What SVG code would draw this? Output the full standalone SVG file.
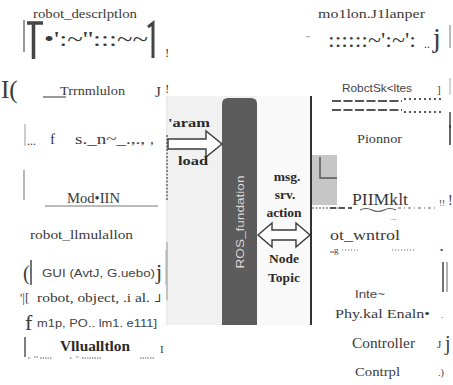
<svg xmlns="http://www.w3.org/2000/svg" width="453" height="385" viewBox="0 0 453 385">
<style>
.s{font-family:'Liberation Serif','DejaVu Serif',serif;fill:#3a3a3a}
.a{font-family:'Liberation Sans','DejaVu Sans',sans-serif;fill:#444}
.b{font-family:'Liberation Serif','DejaVu Serif',serif;font-weight:bold;fill:#2a2a2a}
.ln{stroke:#555;stroke-width:1.2;fill:none}
.arrow{fill:#fff;stroke:#3a3a3a;stroke-width:1.4;stroke-linejoin:miter}
</style>
<rect width="453" height="385" fill="#fff"/>
<!-- center panel background -->
<rect x="168" y="96" width="143" height="229" fill="#f1f1f1"/>
<rect x="257" y="96" width="54" height="229" fill="#f9f9f9"/>
<line x1="167" y1="96" x2="167" y2="325" stroke="#d8d8d8" stroke-width="1"/>
<line x1="167" y1="135" x2="167" y2="200" stroke="#666" stroke-width="1.5" stroke-dasharray="2,1.5"/>
<line x1="167" y1="242" x2="167" y2="300" stroke="#999" stroke-width="1"/>

<!-- ROS foundation -->
<g id="ros-foundation">
<path d="M222,104 Q222,98 228,98 L251,98 Q257,98 257,104 L257,325 L222,325 Z" fill="#5c5c5c"/>
<text transform="translate(244,222) rotate(-90)" text-anchor="middle" font-family="'Liberation Sans','DejaVu Sans',sans-serif" font-size="10.5" fill="#d8d8d8" textLength="93" lengthAdjust="spacingAndGlyphs">ROS_fundation</text>
</g>
<line x1="311" y1="96" x2="311" y2="325" stroke="#333" stroke-width="2"/>

<!-- connectors -->
<g id="connectors">
<path class="arrow" d="M168,139 L206,139 L206,131 L222,144 L206,157 L206,149 L168,149 Z"/>
<path class="arrow" d="M258,235 L272,223 L272,230 L296,230 L296,223 L310,235 L296,247 L296,240 L272,240 L272,247 Z"/>
</g>
<g id="param-load">
<text class="b" x="168" y="127" font-size="13" textLength="42" lengthAdjust="spacingAndGlyphs">'aram</text>
<text class="b" x="178" y="165" font-size="13" textLength="30" lengthAdjust="spacingAndGlyphs">load</text>
</g>
<g id="msg-labels">
<text class="b" x="287" y="181" font-size="13.5" text-anchor="middle">msg.</text>
<text class="b" x="285" y="199" font-size="13.5" text-anchor="middle">srv.</text>
<text class="b" x="284" y="217" font-size="13.5" text-anchor="middle">action</text>
<text class="b" x="284" y="263" font-size="13.5" text-anchor="middle">Node</text>
<text class="b" x="284" y="282" font-size="13.5" text-anchor="middle">Topic</text>
</g>

<!-- left column -->
<g id="robot-description">
<text class="s" x="33" y="18" font-size="13" textLength="104" lengthAdjust="spacingAndGlyphs">robot_descrlptlon</text>
<line x1="24" y1="20" x2="24" y2="52" class="ln"/>
<path d="M27,23 H43 M33.5,23 V59" stroke="#444" stroke-width="3.5" fill="none"/>
<text class="s" x="44" y="46" font-size="20" fill="#444" textLength="104" lengthAdjust="spacingAndGlyphs">•':~'':::~~</text>
<path d="M148,27 L153,23 V58" stroke="#444" stroke-width="3" fill="none"/>
<text class="s" x="165" y="57" font-size="13">!</text>
</g>
<g id="transmission">
<text class="s" x="1" y="98" font-size="25" fill="#555">I(</text>
<line x1="43" y1="97" x2="66" y2="97" class="ln"/>
<text class="s" x="60" y="95" font-size="12.5" textLength="65" lengthAdjust="spacingAndGlyphs">Trrnmlulon</text>
<text class="s" x="155" y="97" font-size="15">J</text>
<text class="s" x="165" y="93" font-size="13">!</text>
</g>
<g id="sensor">
<line x1="25" y1="124" x2="25" y2="146" stroke="#999" stroke-width="1"/>
<text class="s" x="27" y="145" font-size="12">...</text>
<text class="s" x="50" y="144" font-size="15">f</text>
<text class="s" x="75" y="144" font-size="15" textLength="70" lengthAdjust="spacingAndGlyphs">s._n~_.,.,</text>
<text class="s" x="150" y="144" font-size="15">,</text>
</g>
<g id="modeling">
<line x1="24" y1="170" x2="24" y2="200" stroke="#888" stroke-width="1.2"/>
<text class="s" x="67" y="203" font-size="14" textLength="53" lengthAdjust="spacingAndGlyphs">Mod•IIN</text>
<line x1="45" y1="206" x2="158" y2="206" stroke="#777" stroke-width="1"/>
</g>
<g id="robot-simulation">
<text class="s" x="30" y="239" font-size="13.5" textLength="103" lengthAdjust="spacingAndGlyphs">robot_llmulallon</text>
<text class="s" x="23" y="280" font-size="20" fill="#555">(</text>
<line x1="31" y1="260" x2="31" y2="285" stroke="#444" stroke-width="1.5"/>
<text class="a" x="42" y="277" font-size="11" textLength="113" lengthAdjust="spacingAndGlyphs">GUI (AvtJ, G.uebo)</text>
<text class="s" x="156" y="279" font-size="22" fill="#444">j</text>
<line x1="166" y1="250" x2="166" y2="285" stroke="#aaa" stroke-width="1"/>
<text class="s" x="20" y="302" font-size="13">'|[</text>
<text class="s" x="37" y="302" font-size="12" textLength="113" lengthAdjust="spacingAndGlyphs">robot, object, .i al.</text>
<text class="s" x="155" y="302" font-size="11">⅃</text>
<text class="s" x="25" y="330" font-size="22">f</text>
<text class="a" x="37" y="327" font-size="11" textLength="120" lengthAdjust="spacingAndGlyphs">m1p, PO.. lm1. e111]</text>
</g>
<g id="visualization">
<line x1="25" y1="337" x2="25" y2="357" stroke="#555" stroke-width="1.5"/>
<text class="b" x="60" y="351" font-size="14" textLength="70" lengthAdjust="spacingAndGlyphs">Vllualltlon</text>
<text class="s" x="160" y="353" font-size="11">I</text>
<path d="M28,358 h3 M34,357 h4 M40,358 h12 M70,358 h2 M76,357 h3 M82,358 h20 M140,358 h14" stroke="#666" stroke-width="1" stroke-dasharray="1.5,1"/>
</g>

<!-- right column -->
<g id="motion-planner">
<text class="s" x="318" y="18" font-size="13" textLength="107" lengthAdjust="spacingAndGlyphs">mo1lon.J1lanper</text>
<text class="s" x="306" y="40" font-size="7" fill="#888">'''</text>
<text class="s" x="328" y="47" font-size="20" fill="#444" textLength="88" lengthAdjust="spacingAndGlyphs">::::::~':~':</text>
<text class="s" x="424" y="48" font-size="12">..</text>
<text class="s" x="433" y="47" font-size="28" fill="#444">j</text>
<line x1="450" y1="25" x2="450" y2="48" stroke="#777" stroke-width="1"/>
</g>
<g id="robot-states">
<text class="a" x="342" y="92" font-size="11.5" fill="#555" textLength="70" lengthAdjust="spacingAndGlyphs">RobctSk&lt;ltes</text>
<text class="s" x="437" y="93" font-size="11">]</text>
<line x1="450" y1="78" x2="450" y2="95" stroke="#aaa" stroke-width="1"/>
<path d="M332,101 H402 M332,110 H402" stroke="#555" stroke-width="2.2" stroke-dasharray="9,2.5"/>
<path d="M404,99 H442 M404,112 H442" stroke="#555" stroke-width="2" stroke-dasharray="2,3"/>
<line x1="450" y1="112" x2="450" y2="128" stroke="#444" stroke-width="1.5"/>
</g>
<g id="pioneer">
<text class="s" x="357" y="143" font-size="12" textLength="45" lengthAdjust="spacingAndGlyphs">Pionnor</text>
<line x1="450" y1="125" x2="450" y2="145" stroke="#333" stroke-width="1.5"/>
<rect x="312" y="155" width="25" height="50" fill="#c6c6c6"/>
<path d="M320,157 V178 H337" stroke="#555" stroke-width="1.5" fill="none"/>
<text class="s" x="352" y="205" font-size="17" fill="#222" textLength="56" lengthAdjust="spacingAndGlyphs">PIIMklt</text>
<path d="M312,208 H345" stroke="#555" stroke-width="1.2" stroke-dasharray="2,1.5"/>
<path d="M330,208 H352" stroke="#555" stroke-width="2" stroke-dasharray="6,3"/>
<path d="M360,210 q6,-3 12,0 t12,0 t12,0" stroke="#555" stroke-width="1.2" fill="none"/>
<path d="M398,208 H435" stroke="#666" stroke-width="1.2" stroke-dasharray="3,3,1,3"/>
<text class="s" x="391" y="220" font-size="7" fill="#777">...</text>
<text class="s" x="439" y="206" font-size="9" fill="#999">!!</text>
<text class="s" x="448" y="205" font-size="14" fill="#aaa">!</text>
</g>
<g id="robot-control">
<text class="s" x="330" y="240" font-size="15" textLength="70" lengthAdjust="spacingAndGlyphs">ot_wntrol</text>
<path d="M330,252 h4" stroke="#555" stroke-width="1"/>
<text class="s" x="334" y="253" font-size="9">g</text>
<path d="M342,250 H358 M392,250 H416" stroke="#777" stroke-width="1" stroke-dasharray="1.2,1.8"/>
<text class="s" x="440" y="253" font-size="9">•</text>
<line x1="443" y1="262" x2="443" y2="292" stroke="#444" stroke-width="1.5"/>
<line x1="447" y1="262" x2="447" y2="292" stroke="#666" stroke-width="1"/>
</g>
<g id="physical-engine">
<text class="a" x="355" y="298" font-size="11.5" textLength="30" lengthAdjust="spacingAndGlyphs">Inte~</text>
<text class="s" x="335" y="318" font-size="13" textLength="95" lengthAdjust="spacingAndGlyphs">Phy.kal Enaln•</text>
<text class="s" x="441" y="318" font-size="9">.</text>
</g>
<g id="controller">
<text class="s" x="352" y="348" font-size="14" textLength="63" lengthAdjust="spacingAndGlyphs">Controller</text>
<text class="s" x="437" y="348" font-size="11">J</text>
<text class="s" x="445" y="350" font-size="20" fill="#444">j</text>
<text class="s" x="355" y="376" font-size="12" textLength="45" lengthAdjust="spacingAndGlyphs">Contrpl</text>
<text class="s" x="438" y="376" font-size="10">.)</text>
</g>
</svg>
